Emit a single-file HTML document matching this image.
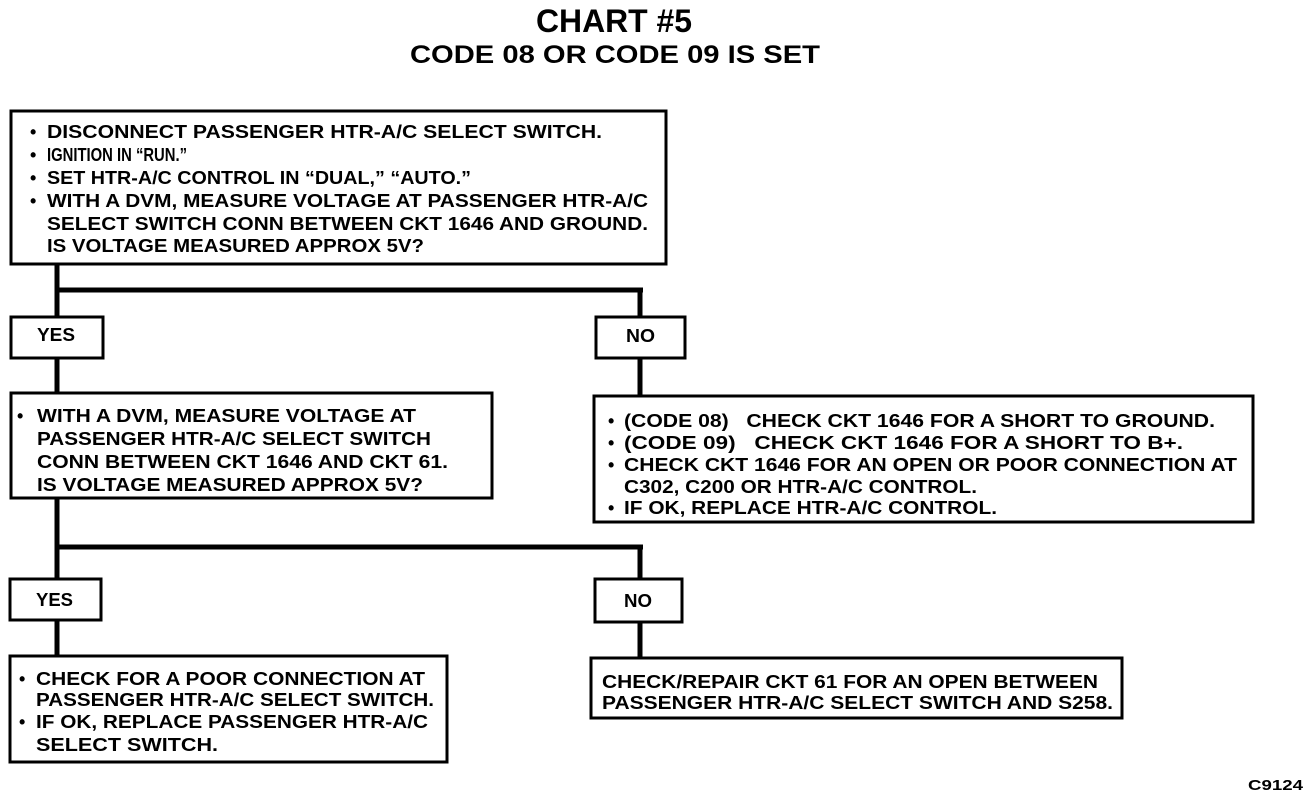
<!DOCTYPE html>
<html><head><meta charset="utf-8"><style>
html,body{margin:0;padding:0;background:#fff;}
svg{display:block}
text{font-family:"Liberation Sans",Arial,sans-serif;font-weight:bold;fill:#000;}
</style></head><body>
<svg width="1312" height="802" viewBox="0 0 1312 802" xmlns="http://www.w3.org/2000/svg">
<g fill="none" stroke="#000" stroke-width="3">
<rect x="11" y="111" width="655" height="153"/>
<rect x="11" y="317" width="92" height="41"/>
<rect x="596" y="317" width="89" height="41"/>
<rect x="11" y="393" width="481" height="105"/>
<rect x="594" y="396" width="659" height="126"/>
<rect x="10" y="579" width="91" height="41"/>
<rect x="595" y="579" width="87" height="43"/>
<rect x="10" y="656" width="437" height="106"/>
<rect x="591" y="658" width="531" height="60"/>
</g>
<g fill="none" stroke="#000" stroke-width="5">
<path d="M57 265V316M55 290H643M640 288V316"/>
<path d="M57 359V392M640 359V395"/>
<path d="M57 499V578M55 547H643M640 545V578"/>
<path d="M57 621V655M640 623V657"/>
</g>
<text x="536" y="32" font-size="32" textLength="156" lengthAdjust="spacingAndGlyphs">CHART #5</text>
<text x="410" y="63" font-size="25" textLength="410" lengthAdjust="spacingAndGlyphs">CODE 08 OR CODE 09 IS SET</text>
<g font-size="18">
<text x="30" y="138">•</text>
<text x="47" y="138" textLength="555" lengthAdjust="spacingAndGlyphs">DISCONNECT PASSENGER HTR-A/C SELECT SWITCH.</text>
<text x="30" y="161">•</text>
<text x="47" y="161" textLength="140" lengthAdjust="spacingAndGlyphs">IGNITION IN “RUN.”</text>
<text x="30" y="184">•</text>
<text x="47" y="184" textLength="424" lengthAdjust="spacingAndGlyphs">SET HTR-A/C CONTROL IN “DUAL,” “AUTO.”</text>
<text x="30" y="207">•</text>
<text x="47" y="207" textLength="601" lengthAdjust="spacingAndGlyphs">WITH A DVM, MEASURE VOLTAGE AT PASSENGER HTR-A/C</text>
<text x="47" y="230" textLength="601" lengthAdjust="spacingAndGlyphs">SELECT SWITCH CONN BETWEEN CKT 1646 AND GROUND.</text>
<text x="47" y="252" textLength="377" lengthAdjust="spacingAndGlyphs">IS VOLTAGE MEASURED APPROX 5V?</text>

<text x="37" y="341" textLength="38" lengthAdjust="spacingAndGlyphs">YES</text>
<text x="626" y="342" textLength="29" lengthAdjust="spacingAndGlyphs">NO</text>

<text x="17" y="422">•</text>
<text x="37" y="422" textLength="379" lengthAdjust="spacingAndGlyphs">WITH A DVM, MEASURE VOLTAGE AT</text>
<text x="37" y="445" textLength="394" lengthAdjust="spacingAndGlyphs">PASSENGER HTR-A/C SELECT SWITCH</text>
<text x="37" y="468" textLength="411" lengthAdjust="spacingAndGlyphs">CONN BETWEEN CKT 1646 AND CKT 61.</text>
<text x="37" y="491" textLength="386" lengthAdjust="spacingAndGlyphs">IS VOLTAGE MEASURED APPROX 5V?</text>

<text x="608" y="427">•</text>
<text x="624" y="427" textLength="591" lengthAdjust="spacingAndGlyphs" xml:space="preserve">(CODE 08)   CHECK CKT 1646 FOR A SHORT TO GROUND.</text>
<text x="608" y="449">•</text>
<text x="624" y="449" textLength="559" lengthAdjust="spacingAndGlyphs" xml:space="preserve">(CODE 09)   CHECK CKT 1646 FOR A SHORT TO B+.</text>
<text x="608" y="471">•</text>
<text x="624" y="471" textLength="613" lengthAdjust="spacingAndGlyphs">CHECK CKT 1646 FOR AN OPEN OR POOR CONNECTION AT</text>
<text x="624" y="493" textLength="353" lengthAdjust="spacingAndGlyphs">C302, C200 OR HTR-A/C CONTROL.</text>
<text x="608" y="514">•</text>
<text x="624" y="514" textLength="373" lengthAdjust="spacingAndGlyphs">IF OK, REPLACE HTR-A/C CONTROL.</text>

<text x="36" y="606" textLength="37" lengthAdjust="spacingAndGlyphs">YES</text>
<text x="624" y="607" textLength="28" lengthAdjust="spacingAndGlyphs">NO</text>

<text x="19" y="685">•</text>
<text x="36" y="685" textLength="389" lengthAdjust="spacingAndGlyphs">CHECK FOR A POOR CONNECTION AT</text>
<text x="36" y="706" textLength="398" lengthAdjust="spacingAndGlyphs">PASSENGER HTR-A/C SELECT SWITCH.</text>
<text x="19" y="728">•</text>
<text x="36" y="728" textLength="392" lengthAdjust="spacingAndGlyphs">IF OK, REPLACE PASSENGER HTR-A/C</text>
<text x="36" y="751" textLength="182" lengthAdjust="spacingAndGlyphs">SELECT SWITCH.</text>

<text x="602" y="688" textLength="496" lengthAdjust="spacingAndGlyphs">CHECK/REPAIR CKT 61 FOR AN OPEN BETWEEN</text>
<text x="602" y="709" textLength="511" lengthAdjust="spacingAndGlyphs">PASSENGER HTR-A/C SELECT SWITCH AND S258.</text>
</g>
<text x="1248" y="790" font-size="15" textLength="55" lengthAdjust="spacingAndGlyphs">C9124</text>
</svg>
</body></html>
